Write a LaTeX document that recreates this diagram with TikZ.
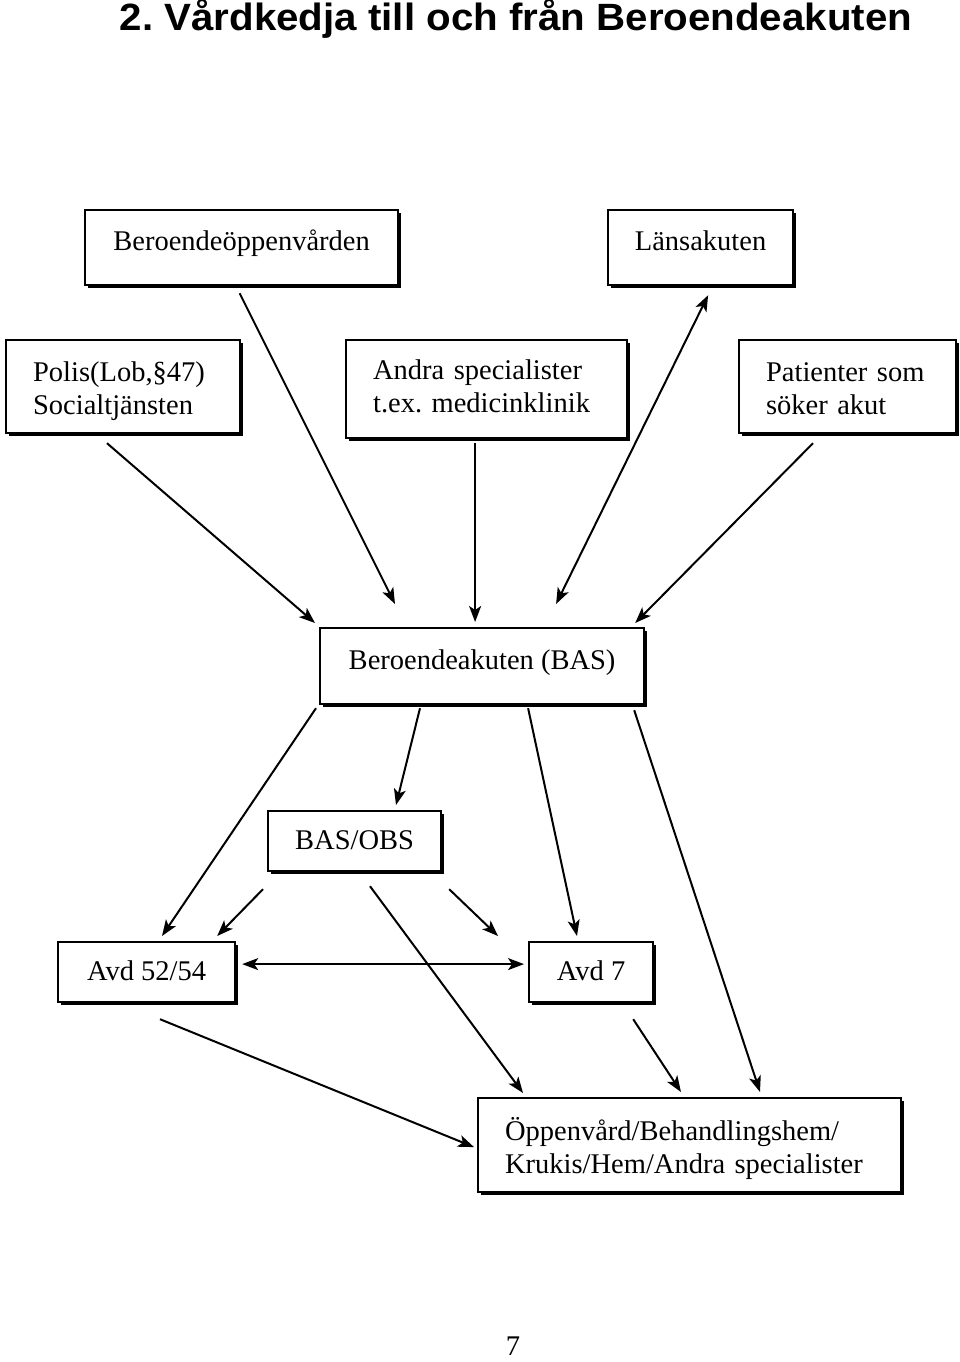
\documentclass[tikz,border=0pt]{standalone}
\usepackage{fontspec}
\setmainfont{Liberation Serif}
\newfontfamily\titlefont{Liberation Sans}
\usetikzlibrary{arrows.meta,shadows}
\frenchspacing

\begin{document}
\begin{tikzpicture}[x=1pt, y=-1pt, >={Stealth[length=16pt,width=12pt,inset=4pt]},
  box/.style={rectangle, draw, line width=2.2pt, fill=white, anchor=north west,
    font=\fontsize{28.5}{33}\selectfont, text height=20pt, text depth=14pt,
    drop shadow={shadow xshift=3pt, shadow yshift=-3pt, opacity=1, fill=black}},
  lowbox/.style={box, text depth=4pt},
  textbox/.style={box, align=left, inner xsep=27pt, text depth=30pt},
  arrow/.style={->, line width=2pt},
  both/.style={<->, line width=2pt}]
  \useasboundingbox (0,0) rectangle (960,1362);
  \node[anchor=base, font=\titlefont\bfseries\fontsize{38}{44}\selectfont] (title) at (516,31) {\scalebox{1.06}[1]{2. Vårdkedja till och från Beroendeakuten}};
  % rad 1
  \node[box, minimum width=313pt, minimum height=75pt] (oppenvard) at (84,209) {Beroendeöppenvården};
  \node[box, minimum width=185pt, minimum height=75pt] (lansakuten) at (607,209) {Länsakuten};
  % rad 2
  \node[textbox, minimum height=93pt, text width=180pt] (polis) at (5,339) {Polis(Lob,§47)\\Socialtjänsten};
  \node[textbox, minimum height=98pt, text width=227pt, text depth=40pt] (andra) at (345,339) {Andra specialister\\t.ex. medicinklinik};
  \node[textbox, minimum height=93pt, text width=163pt] (patienter) at (738,339) {Patienter som\\söker akut};
  % mitten
  \node[box, minimum width=324pt, minimum height=76pt] (bas) at (319,627) {Beroendeakuten (BAS)};
  \node[lowbox, minimum width=173pt, minimum height=60pt] (obs) at (267,810) {BAS/OBS};
  \node[lowbox, minimum width=177pt, minimum height=60pt] (avd52) at (57,941) {Avd 52/54};
  \node[lowbox, minimum width=124pt, minimum height=60pt] (avd7) at (528,941) {Avd 7};
  \node[textbox, minimum height=94pt, text width=369pt] (efter) at (477,1097) {Öppenvård/Behandlingshem/\\Krukis/Hem/Andra specialister};
  \node[anchor=base, font=\fontsize{28.5}{33}\selectfont] (sida) at (513,1355) {7};
  % in till BAS
  \draw[arrow] ([shift={(102,9)}]polis.south west) -- ([shift={(-4,-4)}]bas.north west);
  \draw[arrow] ([shift={(-2,7)}]oppenvard.south) -- ([shift={(76,-23)}]bas.north west);
  \draw[arrow] ([shift={(-11.5,4)}]andra.south) -- ([shift={(-7,-5)}]bas.north);
  \draw[both] ([shift={(74,-23)}]bas.north) -- ([shift={(7.5,9)}]lansakuten.south);
  \draw[arrow] ([shift={(75,9)}]patienter.south west) -- ([shift={(-10,-4)}]bas.north east);
  % ut fran BAS
  \draw[arrow] ([shift={(-3,3)}]bas.south west) -- ([shift={(105,-5)}]avd52.north west);
  \draw[arrow] ([shift={(101,3)}]bas.south west) -- ([shift={(129,-5)}]obs.north west);
  \draw[arrow] ([shift={(46,3)}]bas.south) -- ([shift={(49,-5)}]avd7.north west);
  \draw[arrow] ([shift={(-11,5)}]bas.south east) -- ([shift={(283,-5)}]efter.north west);
  % fran BAS/OBS
  \draw[arrow] ([shift={(-4,17)}]obs.south west) -- ([shift={(-19,-5)}]avd52.north east);
  \draw[arrow] ([shift={(7,17)}]obs.south east) -- ([shift={(-30,-5)}]avd7.north west);
  \draw[arrow] ([shift={(103,14)}]obs.south west) -- ([shift={(46,-4)}]efter.north west);
  % avdelningar
  \draw[both] ([shift={(6,-8)}]avd52.east) -- ([shift={(-4,-8)}]avd7.west);
  \draw[arrow] ([shift={(103,16)}]avd52.south west) -- ([shift={(-3,2)}]efter.west);
  \draw[arrow] ([shift={(-21,16)}]avd7.south east) -- ([shift={(204,-5)}]efter.north west);
\end{tikzpicture}
\end{document}
